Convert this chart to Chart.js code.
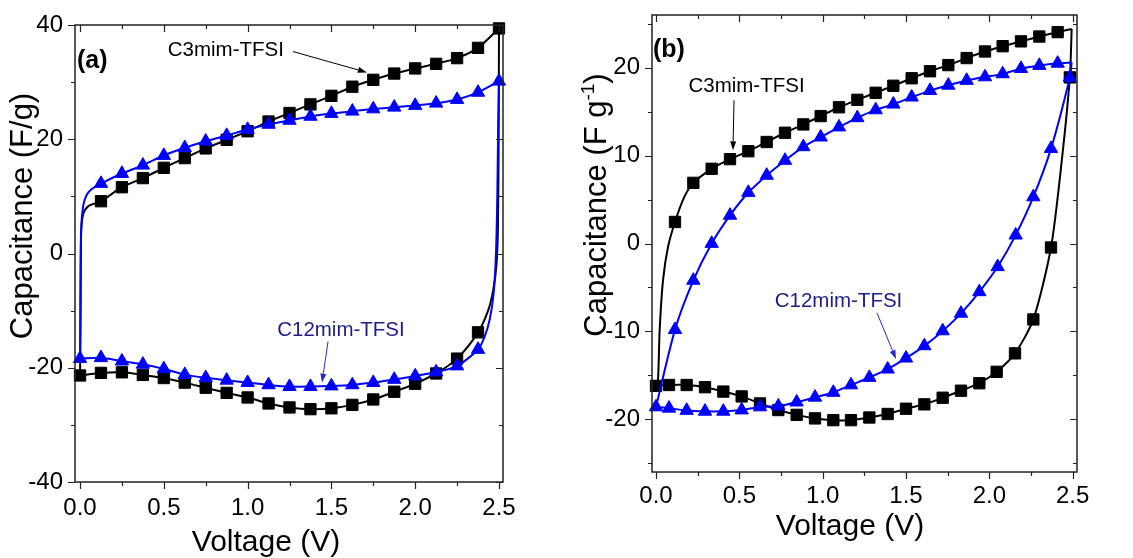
<!DOCTYPE html>
<html><head><meta charset="utf-8">
<script src="https://cdn.jsdelivr.net/npm/chart.js@4.4.1/dist/chart.umd.min.js"></script>
<style>
html,body{margin:0;padding:0;background:#fff;width:1133px;height:558px;overflow:hidden}
#wa{position:absolute;left:0;top:0;width:566px;height:558px}
#wb{position:absolute;left:566px;top:0;width:567px;height:558px}
</style></head><body>
<div id="wa"><canvas id="ca" width="566" height="558"></canvas></div>
<div id="wb"><canvas id="cb" width="567" height="558"></canvas></div>
<script>
// ---------- tick values ----------
const xMajor = [0, 0.5, 1.0, 1.5, 2.0, 2.5];
const xMinor = [0.25, 0.75, 1.25, 1.75, 2.25];
const aYMajor = [-40, -20, 0, 20, 40];
const aYMinor = [-30, -10, 10, 30];
const bYMajor = [-20, -10, 0, 10, 20];
const bYMinor = [-25, -15, -5, 5, 15, 25];

// ---------- panel (a) : C3mim-TFSI (black squares) ----------
const aC3FwdV = [0, 0.003, 0.005, 0.008, 0.02, 0.05, 0.125, 0.25, 0.375, 0.5, 0.625, 0.75, 0.875, 1.0, 1.125, 1.25, 1.375, 1.5, 1.625, 1.75, 1.875, 2.0, 2.125, 2.25, 2.375, 2.5];
const aC3FwdC = [-21.35, -12, 0, 4.5, 7.0, 8.3, 9.15, 11.6, 13.2, 15.0, 16.7, 18.4, 19.9, 21.4, 23.1, 24.6, 26.1, 27.6, 29.2, 30.4, 31.5, 32.4, 33.2, 34.2, 36.0, 39.4];
const aC3FwdM = [1, 0, 0, 0, 0, 0, 1, 1, 1, 1, 1, 1, 1, 1, 1, 1, 1, 1, 1, 1, 1, 1, 1, 1, 1, 1];
const aC3RevV = [2.5, 2.498, 2.494, 2.485, 2.465, 2.435, 2.375, 2.25, 2.125, 2.0, 1.875, 1.75, 1.625, 1.5, 1.375, 1.25, 1.125, 1.0, 0.875, 0.75, 0.625, 0.5, 0.375, 0.25, 0.125, 0];
const aC3RevC = [39.4, 20, 5, -2, -6.5, -10, -13.8, -18.4, -21.0, -22.8, -24.2, -25.55, -26.5, -27.1, -27.25, -26.95, -26.25, -25.2, -24.4, -23.5, -22.6, -21.8, -21.25, -20.8, -20.9, -21.35];
const aC3RevM = [0, 0, 0, 0, 0, 0, 1, 1, 1, 1, 1, 1, 1, 1, 1, 1, 1, 1, 1, 1, 1, 1, 1, 1, 1, 0];

// ---------- panel (a) : C12mim-TFSI (blue triangles) ----------
const aC12FwdV = [0, 0.002, 0.004, 0.008, 0.02, 0.04, 0.07, 0.125, 0.25, 0.375, 0.5, 0.625, 0.75, 0.875, 1.0, 1.125, 1.25, 1.375, 1.5, 1.625, 1.75, 1.875, 2.0, 2.125, 2.25, 2.375, 2.5];
const aC12FwdC = [-18.4, -10, 0, 5, 8.5, 10.3, 11.3, 12.25, 14.0, 15.45, 17.15, 18.5, 19.65, 20.65, 21.7, 22.6, 23.3, 24.0, 24.5, 24.9, 25.3, 25.6, 25.9, 26.3, 26.95, 28.2, 30.15];
const aC12FwdM = [1, 0, 0, 0, 0, 0, 0, 1, 1, 1, 1, 1, 1, 1, 1, 1, 1, 1, 1, 1, 1, 1, 1, 1, 1, 1, 1];
const aC12RevV = [2.5, 2.495, 2.49, 2.482, 2.468, 2.445, 2.415, 2.375, 2.25, 2.125, 2.0, 1.875, 1.75, 1.625, 1.5, 1.375, 1.25, 1.125, 1.0, 0.875, 0.75, 0.625, 0.5, 0.375, 0.25, 0.125, 0];
const aC12RevC = [30.15, 22, 10, 0, -7, -11.5, -14.5, -16.8, -19.7, -20.75, -21.45, -22.05, -22.6, -23.0, -23.2, -23.3, -23.3, -23.0, -22.6, -22.2, -21.75, -21.2, -20.2, -19.4, -18.85, -18.25, -18.4];
const aC12RevM = [0, 0, 0, 0, 0, 0, 0, 1, 1, 1, 1, 1, 1, 1, 1, 1, 1, 1, 1, 1, 1, 1, 1, 1, 1, 1, 0];

// ---------- panel (b) : C3mim-TFSI (black squares) ----------
const bC3FwdV = [0, 0.012, 0.022, 0.042, 0.072, 0.114, 0.17, 0.224, 0.334, 0.444, 0.554, 0.664, 0.774, 0.884, 0.988, 1.098, 1.208, 1.318, 1.424, 1.534, 1.644, 1.754, 1.864, 1.974, 2.08, 2.19, 2.30, 2.41, 2.494];
const bC3FwdC = [-16.2, -15.5, -9.85, -4.2, -0.4, 2.45, 5.3, 6.9, 8.5, 9.6, 10.5, 11.55, 12.6, 13.55, 14.5, 15.5, 16.35, 17.15, 17.95, 18.8, 19.6, 20.3, 21.1, 21.85, 22.45, 23.0, 23.55, 24.05, 24.4];
const bC3FwdM = [1, 0, 0, 0, 0, 1, 0, 1, 1, 1, 1, 1, 1, 1, 1, 1, 1, 1, 1, 1, 1, 1, 1, 1, 1, 1, 1, 1, 0];
const bC3RevV = [2.494, 2.483, 2.435, 2.37, 2.264, 2.154, 2.044, 1.94, 1.83, 1.72, 1.61, 1.50, 1.39, 1.28, 1.17, 1.064, 0.954, 0.844, 0.734, 0.624, 0.514, 0.404, 0.294, 0.184, 0.078, 0];
const bC3RevC = [24.4, 18.9, 9.5, -0.45, -8.64, -12.5, -14.6, -15.9, -16.75, -17.55, -18.3, -18.8, -19.4, -19.8, -20.1, -20.1, -19.9, -19.5, -18.95, -18.2, -17.4, -16.85, -16.35, -16.1, -16.1, -16.2];
const bC3RevM = [0, 1, 0, 1, 1, 1, 1, 1, 1, 1, 1, 1, 1, 1, 1, 1, 1, 1, 1, 1, 1, 1, 1, 1, 1, 0];

// ---------- panel (b) : C12mim-TFSI (blue triangles) ----------
const bC12FwdV = [0, 0.114, 0.224, 0.334, 0.444, 0.554, 0.664, 0.774, 0.884, 0.988, 1.098, 1.208, 1.318, 1.424, 1.534, 1.644, 1.754, 1.864, 1.974, 2.08, 2.19, 2.30, 2.41, 2.494];
const bC12FwdC = [-18.6, -9.8, -4.2, 0.0, 3.2, 5.8, 7.75, 9.45, 11.0, 12.1, 13.25, 14.3, 15.2, 15.85, 16.65, 17.4, 18.0, 18.55, 18.95, 19.3, 19.9, 20.25, 20.5, 20.6];
const bC12FwdM = [1, 1, 1, 1, 1, 1, 1, 1, 1, 1, 1, 1, 1, 1, 1, 1, 1, 1, 1, 1, 1, 1, 1, 0];
const bC12RevV = [2.494, 2.483, 2.37, 2.264, 2.158, 2.05, 1.94, 1.83, 1.72, 1.61, 1.50, 1.39, 1.28, 1.17, 1.064, 0.954, 0.844, 0.734, 0.624, 0.514, 0.404, 0.294, 0.184, 0.078, 0];
const bC12RevC = [20.6, 18.9, 10.8, 5.3, 0.95, -2.65, -5.5, -7.95, -9.95, -11.65, -13.05, -14.3, -15.25, -16.1, -16.95, -17.5, -18.05, -18.5, -18.6, -18.95, -19.1, -19.1, -19.0, -18.75, -18.6];
const bC12RevM = [0, 1, 1, 1, 1, 1, 1, 1, 1, 1, 1, 1, 1, 1, 1, 1, 1, 1, 1, 1, 1, 1, 1, 1, 0];

// ---------- helpers ----------
const FONT = "'Liberation Sans', Arial, Helvetica, sans-serif";
const BLACK = '#000000', BLUE = '#0000ff';

function ds(v, c, m, color, style, r, order) {
  const rad = m.map(f => f ? r : 0);
  return {
    data: v.map((x, i) => ({ x: x, y: c[i] })),
    showLine: true, borderColor: color, backgroundColor: color, borderWidth: 2,
    tension: 0.25, pointStyle: style, pointRadius: rad, pointHoverRadius: rad,
    pointBackgroundColor: color, pointBorderColor: color, pointBorderWidth: 1,
    order: order, clip: false
  };
}

function drawArrow(ctx, x1, y1, x2, y2, color) {
  const head = 9, hw = 3;
  const ang = Math.atan2(y2 - y1, x2 - x1);
  const bx = x2 - head * Math.cos(ang), by = y2 - head * Math.sin(ang);
  ctx.strokeStyle = color; ctx.fillStyle = color; ctx.lineWidth = 1;
  ctx.beginPath(); ctx.moveTo(x1, y1); ctx.lineTo(bx, by); ctx.stroke();
  ctx.beginPath(); ctx.moveTo(x2, y2);
  ctx.lineTo(bx + hw * Math.sin(ang), by - hw * Math.cos(ang));
  ctx.lineTo(bx - hw * Math.sin(ang), by + hw * Math.cos(ang));
  ctx.closePath(); ctx.fill();
}

function decorPlugin(cfg) {
  return {
    id: 'decor',
    afterDraw(chart) {
      const ctx = chart.ctx, a = chart.chartArea, sx = chart.scales.x, sy = chart.scales.y;
      ctx.save();
      // frame
      ctx.strokeStyle = '#222'; ctx.lineWidth = 1.5;
      ctx.strokeRect(a.left, a.top, a.right - a.left, a.bottom - a.top);
      // ticks
      ctx.lineWidth = 1.2; ctx.strokeStyle = '#222';
      const xt = (vals, len) => vals.forEach(v => {
        const p = Math.round(sx.getPixelForValue(v)) + 0.5;
        ctx.beginPath(); ctx.moveTo(p, a.bottom); ctx.lineTo(p, a.bottom + len);
        ctx.moveTo(p, a.top); ctx.lineTo(p, a.top + len); ctx.stroke();
      });
      const yt = (vals, len) => vals.forEach(v => {
        const p = Math.round(sy.getPixelForValue(v)) + 0.5;
        ctx.beginPath(); ctx.moveTo(a.left - len, p); ctx.lineTo(a.left, p);
        ctx.moveTo(a.right - len, p); ctx.lineTo(a.right, p); ctx.stroke();
      });
      xt(xMajor, 7); xt(xMinor, 4); yt(cfg.yMajor, 7); yt(cfg.yMinor, 4);

      // axis titles
      ctx.fillStyle = '#000';
      ctx.font = '30px ' + FONT; ctx.textAlign = 'center'; ctx.textBaseline = 'alphabetic';
      ctx.fillText('Voltage (V)', cfg.xTitle[0], cfg.xTitle[1]);
      ctx.save();
      ctx.translate(cfg.yTitle[0], cfg.yTitle[1]); ctx.rotate(-Math.PI / 2);
      const parts = cfg.yTitleParts;
      let total = 0;
      parts.forEach(pt => { ctx.font = pt.size + 'px ' + FONT; pt.w = ctx.measureText(pt.t).width; total += pt.w; });
      let cx = -total / 2;
      ctx.textAlign = 'left';
      parts.forEach(pt => { ctx.font = pt.size + 'px ' + FONT; ctx.fillText(pt.t, cx, -(pt.rise || 0)); cx += pt.w; });
      ctx.restore();

      // panel label
      ctx.font = 'bold 25px ' + FONT; ctx.textAlign = 'left';
      ctx.fillText(cfg.label.t, sx.getPixelForValue(cfg.label.v), sy.getPixelForValue(cfg.label.c));

      // annotations
      ctx.font = '20.5px ' + FONT; ctx.textAlign = 'center';
      cfg.notes.forEach(n => { ctx.fillStyle = n.color; ctx.fillText(n.t, sx.getPixelForValue(n.v), sy.getPixelForValue(n.c)); });
      cfg.arrows.forEach(r => drawArrow(ctx, sx.getPixelForValue(r[0]), sy.getPixelForValue(r[1]), sx.getPixelForValue(r[2]), sy.getPixelForValue(r[3]), r[4]));
      ctx.restore();
    }
  };
}

function makeChart(id, datasets, cfg) {
  return new Chart(document.getElementById(id), {
    type: 'scatter',
    data: { datasets: datasets },
    options: {
      responsive: false, animation: false, events: [],
      layout: { padding: cfg.padding },
      plugins: { legend: { display: false }, tooltip: { enabled: false } },
      scales: {
        x: {
          type: 'linear', min: cfg.xMin, max: cfg.xMax,
          afterFit: s => { s.height = cfg.xHeight; s.paddingLeft = 0; s.paddingRight = 0; },
          afterBuildTicks: s => { s.ticks = xMajor.map(v => ({ value: v })); },
          ticks: { font: { family: FONT, size: 24 }, color: '#000', padding: cfg.xPad, maxRotation: 0, autoSkip: false, callback: v => Number(v).toFixed(1) },
          grid: { display: false, drawTicks: false }, border: { display: false }
        },
        y: {
          type: 'linear', min: cfg.yMin, max: cfg.yMax,
          afterFit: s => { s.width = cfg.yWidth; s.paddingTop = 0; s.paddingBottom = 0; },
          afterBuildTicks: s => { s.ticks = cfg.yMajor.map(v => ({ value: v })); },
          ticks: { font: { family: FONT, size: 24 }, color: '#000', padding: 12, autoSkip: false, callback: v => String(v) },
          grid: { display: false, drawTicks: false }, border: { display: false }
        }
      }
    },
    plugins: [decorPlugin(cfg)]
  });
}

makeChart('ca', [
  ds(aC3FwdV, aC3FwdC, aC3FwdM, BLACK, 'rect', 8, 2),
  ds(aC3RevV, aC3RevC, aC3RevM, BLACK, 'rect', 8, 2),
  ds(aC12FwdV, aC12FwdC, aC12FwdM, BLUE, 'triangle', 7.7, 1),
  ds(aC12RevV, aC12RevC, aC12RevM, BLUE, 'triangle', 7.7, 1)
], {
  padding: { left: 0, top: 25, right: 63, bottom: 0 }, xHeight: 76, yWidth: 75, xPad: 12,
  xMin: -0.03, xMax: 2.524, yMin: -40, yMax: 40, yMajor: aYMajor, yMinor: aYMinor,
  xTitle: [266, 551], yTitle: [32, 216],
  yTitleParts: [{ t: 'Capacitance (F/g)', size: 31 }],
  label: { t: '(a)', v: -0.018, c: 32.5 },
  notes: [{ t: 'C3mim-TFSI', v: 0.87, c: 34.5, color: '#000' }, { t: 'C12mim-TFSI', v: 1.557, c: -14.5, color: '#1c1c8c' }],
  arrows: [[1.271, 35.35, 1.712, 31.7, '#000'], [1.48, -15.4, 1.444, -22.6, '#2a2ad0']]
});

makeChart('cb', [
  ds(bC3FwdV, bC3FwdC, bC3FwdM, BLACK, 'rect', 8, 2),
  ds(bC3RevV, bC3RevC, bC3RevM, BLACK, 'rect', 8, 2),
  ds(bC12FwdV, bC12FwdC, bC12FwdM, BLUE, 'triangle', 7.7, 1),
  ds(bC12RevV, bC12RevC, bC12RevM, BLUE, 'triangle', 7.7, 1)
], {
  padding: { left: 0, top: 15, right: 56, bottom: 0 }, xHeight: 86, yWidth: 86, xPad: 10,
  xMin: -0.024, xMax: 2.526, yMin: -26, yMax: 26, yMajor: bYMajor, yMinor: bYMinor,
  xTitle: [284, 535], yTitle: [40, 205],
  yTitleParts: [{ t: 'Capacitance (F g', size: 31 }, { t: '-1', size: 19, rise: 12 }, { t: ')', size: 31 }],
  label: { t: '(b)', v: -0.018, c: 21.2 },
  notes: [{ t: 'C3mim-TFSI', v: 0.543, c: 17.2, color: '#000' }, { t: 'C12mim-TFSI', v: 1.095, c: -7.24, color: '#1c1c8c' }],
  arrows: [[0.468, 16.3, 0.462, 10.6, '#000'], [1.326, -7.9, 1.44, -13.15, '#2a2ad0']]
});
</script>
</body></html>
